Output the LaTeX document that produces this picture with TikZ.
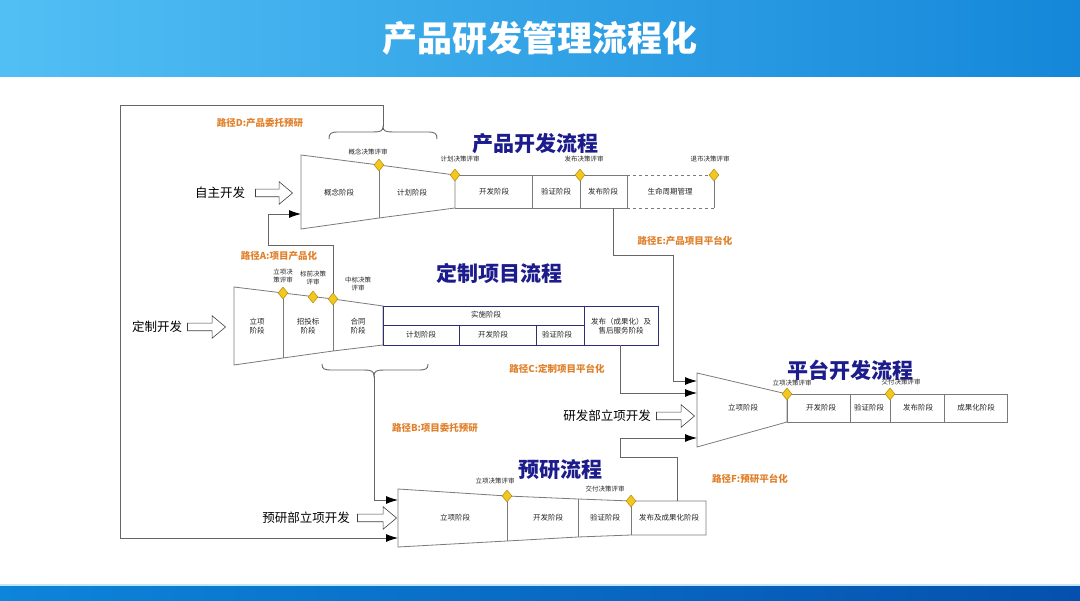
\documentclass[tikz,border=0pt]{standalone}
\usepackage{fontspec}
\setmainfont{Noto Sans CJK SC}
\usetikzlibrary{arrows.meta,shapes.geometric,shapes.arrows}

\definecolor{headL}{HTML}{52BFF4}
\definecolor{headR}{HTML}{1487D9}
\definecolor{footL}{HTML}{0D85DA}
\definecolor{footR}{HTML}{0550AE}
\definecolor{footLine}{HTML}{BFE6FA}
\definecolor{lineGray}{HTML}{7A7A7A}
\definecolor{linkGray}{HTML}{666666}
\definecolor{bandNavy}{HTML}{2E2E78}
\definecolor{gateFill}{HTML}{F2C81E}
\definecolor{gateEdge}{HTML}{B08A10}
\definecolor{pathOrange}{HTML}{E0802A}
\definecolor{flowBlue}{HTML}{1C1C8C}

\tikzset{
  outline/.style={draw=lineGray, line width=0.8pt},
  band/.style={draw=bandNavy, line width=0.8pt},
  link/.style={draw=linkGray, line width=0.9pt, -{Latex[length=12pt,width=8pt,black]}},
  brace/.style={draw=linkGray, line width=0.9pt},
  gate/.style={diamond, draw=gateEdge, fill=gateFill, line width=0.5pt, inner sep=0pt, minimum width=10pt, minimum height=12pt},
  stagetxt/.style={font=\fontsize{7.5}{9}\selectfont, text=black!85, align=center},
  reviewtxt/.style={font=\fontsize{6.5}{7.5}\selectfont, text=black!85, align=center},
  pathlbl/.style={font=\fontsize{9.5}{11}\selectfont\bfseries, text=pathOrange},
  flowtitle/.style={font=\fontsize{21}{23}\selectfont\bfseries, text=flowBlue},
  srclbl/.style={font=\fontsize{12.5}{14}\selectfont, text=black},
  maintitle/.style={font=\fontsize{35}{38}\selectfont\bfseries, text=white},
  hollowarrow/.style={single arrow, draw=black!75, fill=white, line width=0.6pt,
    inner xsep=0pt, inner ysep=3.5pt, single arrow head extend=7.5pt,
    single arrow tip angle=80, minimum height=#1, anchor=tip}
}

\begin{document}
\begin{tikzpicture}[x=1pt,y=-1pt]
\useasboundingbox (0,0) rectangle (1080,601);

% header and footer bands
\shade[left color=headL,right color=headR] (0,0) rectangle (1080,77);
\node[maintitle] (title) at (540,38) {产品研发管理流程化};
\fill[footLine] (0,584) rectangle (1080,587);
\shade[left color=footL,right color=footR] (0,587) rectangle (1080,601);

% product flow
\coordinate (pNW) at (301,155);
\coordinate (pSW) at (301,229);
\coordinate (pG1) at (379,165);
\coordinate (pS1) at (379,218);
\coordinate (pG2) at (455,175);
\coordinate (pS2) at (455,208);
\coordinate (pG3) at (580,175);
\coordinate (pG4) at (714,175);
\coordinate (pSE) at (714,208);
\draw[outline] (pNW) -- (pG1) -- (pG2) -- (pS2) -- (pS1) -- (pSW) -- cycle;
\draw[outline] (pG1) -- (pS1);
\draw[outline] (pG2) -- (627,175) (pS2) -- (627,208) (pG4) -- (pSE);
\draw[outline,dashed] (627,175) -- (pG4) (627,208) -- (pSE);
\foreach \x in {532,580,627} \draw[outline] (\x,175) -- (\x,208);

% custom project flow
\coordinate (cNW) at (234,287);
\coordinate (cSW) at (234,365);
\coordinate (cG1) at (283,293);
\coordinate (cS1) at (283,358);
\coordinate (cG2) at (313,297);
\coordinate (cG3) at (333,299);
\coordinate (cS3) at (333,351);
\coordinate (cNE) at (383,306);
\coordinate (cSE) at (383,345);
\draw[outline] (cNW) -- (cG1) -- (cG3) -- (cNE) -- (cSE) -- (cS3) -- (cS1) -- (cSW) -- cycle;
\draw[outline] (cG1) -- (cS1) (cG3) -- (cS3);
\draw[band] (cNE) rectangle (658,345);
\draw[band] (383,325) -- (584,325) (584,306) -- (584,345)
  (459,325) -- (459,345) (536,325) -- (536,345);

% platform flow
\coordinate (fNW) at (697,373);
\coordinate (fSW) at (697,447);
\coordinate (fG1) at (787,394);
\coordinate (fS1) at (787,422);
\coordinate (fG2) at (890,394);
\draw[outline] (fNW) -- (fG1) -- (fS1) -- (fSW) -- cycle;
\draw[outline] (fG1) rectangle (1007,422);
\foreach \x in {850,890,944} \draw[outline] (\x,394) -- (\x,422);

% pre-research flow
\coordinate (rNW) at (398,489);
\coordinate (rSW) at (398,547);
\coordinate (rG1) at (507,496);
\coordinate (rS1) at (507,541);
\coordinate (r2N) at (578,499);
\coordinate (r2S) at (578,537);
\coordinate (rG2) at (631,501);
\coordinate (rS2) at (631,535);
\coordinate (rNE) at (706,501);
\coordinate (rSE) at (706,535);
\draw[outline] (rNW) -- (rG1) -- (r2N) -- (rG2) -- (rNE) -- (rSE) -- (rS2) -- (r2S) -- (rS1) -- (rSW) -- cycle;
\draw[outline] (rG1) -- (rS1) (r2N) -- (r2S) (rG2) -- (rS2);

% braces
\coordinate (dTip) at (383,127);
\coordinate (bTip) at (374,376);
\draw[brace] (329,139) .. controls (329,133) and (331,132) .. (339,132) -- (373,132)
  .. controls (380,132) and (383,131) .. (dTip) .. controls (383,131) and (386,132) .. (393,132)
  -- (427,132) .. controls (435,132) and (437,133) .. (437,139);
\draw[brace] (322,364) .. controls (322,369) and (324,370) .. (332,370) -- (364,370)
  .. controls (371,370) and (374,371) .. (bTip) .. controls (374,371) and (377,370) .. (384,370)
  -- (418,370) .. controls (426,370) and (428,369) .. (428,364);

% paths between flows
\coordinate (dTop) at (120,105);
\coordinate (rInD) at (398,538);
\coordinate (aBend) at (268,245);
\coordinate (pInA) at (301,214);
\coordinate (rInB) at (398,500);
\coordinate (cOut) at (620,345);
\coordinate (fInC) at (697,393);
\coordinate (pOut) at (613,208);
\coordinate (eBend) at (673,255);
\coordinate (fInE) at (697,381);
\coordinate (rOut) at (677,501);
\coordinate (fBend) at (620,457);
\coordinate (fInF) at (697,438);
\draw[link] (dTip) |- (dTop) |- (rInD);
\draw[link] (cG3) |- (aBend) |- (pInA);
\draw[link] (bTip) |- (rInB);
\draw[link] (cOut) |- (fInC);
\draw[link] (pOut) |- (eBend) |- (fInE);
\draw[link] (rOut) |- (fBend) |- (fInF);

% review gates
\foreach \g in {pG1,pG2,pG3,pG4,cG1,cG2,cG3,fG1,fG2,rG1,rG2}
  \node[gate] (gate-\g) at (\g) {};

% titles of the flows
\node[flowtitle] (pTitle) at (535,144) {产品开发流程};
\node[flowtitle] (cTitle) at (499,273) {定制项目流程};
\node[flowtitle] (fTitle) at (850,370) {平台开发流程};
\node[flowtitle] (rTitle) at (560,470) {预研流程};

% stages
\node[stagetxt] (pSt1) at (339,193) {概念阶段};
\node[stagetxt] (pSt2) at (412,193) {计划阶段};
\node[stagetxt] (pSt3) at (494,192) {开发阶段};
\node[stagetxt] (pSt4) at (556,192) {验证阶段};
\node[stagetxt] (pSt5) at (603,192) {发布阶段};
\node[stagetxt] (pSt6) at (670,192) {生命周期管理};
\node[stagetxt] (cSt1) at (257,326) {立项\\阶段};
\node[stagetxt] (cSt2) at (308,326) {招投标\\阶段};
\node[stagetxt] (cSt3) at (358,326) {合同\\阶段};
\node[stagetxt] (cSt4) at (486,315) {实施阶段};
\node[stagetxt] (cSt5) at (421,335) {计划阶段};
\node[stagetxt] (cSt6) at (493,335) {开发阶段};
\node[stagetxt] (cSt7) at (557,335) {验证阶段};
\node[stagetxt] (cSt8) at (621,326) {发布（成果化）及\\售后服务阶段};
\node[stagetxt] (fSt1) at (743,408) {立项阶段};
\node[stagetxt] (fSt2) at (821,408) {开发阶段};
\node[stagetxt] (fSt3) at (869,408) {验证阶段};
\node[stagetxt] (fSt4) at (918,408) {发布阶段};
\node[stagetxt] (fSt5) at (976,408) {成果化阶段};
\node[stagetxt] (rSt1) at (455,518) {立项阶段};
\node[stagetxt] (rSt2) at (548,518) {开发阶段};
\node[stagetxt] (rSt3) at (605,518) {验证阶段};
\node[stagetxt] (rSt4) at (669,518) {发布及成果化阶段};

% reviews
\node[reviewtxt] (pRv1) at (368,152) {概念决策评审};
\node[reviewtxt] (pRv2) at (460,159) {计划决策评审};
\node[reviewtxt] (pRv3) at (584,159) {发布决策评审};
\node[reviewtxt] (pRv4) at (710,159) {退市决策评审};
\node[reviewtxt] (cRv1) at (283,276) {立项决\\策评审};
\node[reviewtxt] (cRv2) at (313,278) {标前决策\\评审};
\node[reviewtxt] (cRv3) at (358,284) {中标决策\\评审};
\node[reviewtxt] (fRv1) at (792,383) {立项决策评审};
\node[reviewtxt] (fRv2) at (901,382) {交付决策评审};
\node[reviewtxt] (rRv1) at (495,481) {立项决策评审};
\node[reviewtxt] (rRv2) at (605,489) {交付决策评审};

% path labels
\node[pathlbl] (lblD) at (260,123) {路径D:产品委托预研};
\node[pathlbl] (lblA) at (279,256) {路径A:项目产品化};
\node[pathlbl] (lblE) at (685,241) {路径E:产品项目平台化};
\node[pathlbl] (lblC) at (557,369) {路径C:定制项目平台化};
\node[pathlbl] (lblB) at (435,428) {路径B:项目委托预研};
\node[pathlbl] (lblF) at (750,479) {路径F:预研平台化};

% sources of work
\node[srclbl] (srcSelf) at (220,193) {自主开发};
\node[srclbl] (srcCustom) at (157,327) {定制开发};
\node[srclbl] (srcRD) at (607,416) {研发部立项开发};
\node[srclbl] (srcPre) at (306,518) {预研部立项开发};
\node[hollowarrow=37pt] (inSelf) at (293,193) {};
\node[hollowarrow=38pt] (inCustom) at (226,327) {};
\node[hollowarrow=38pt] (inRD) at (695,416) {};
\node[hollowarrow=39pt] (inPre) at (397,518) {};
\end{tikzpicture}
\end{document}
